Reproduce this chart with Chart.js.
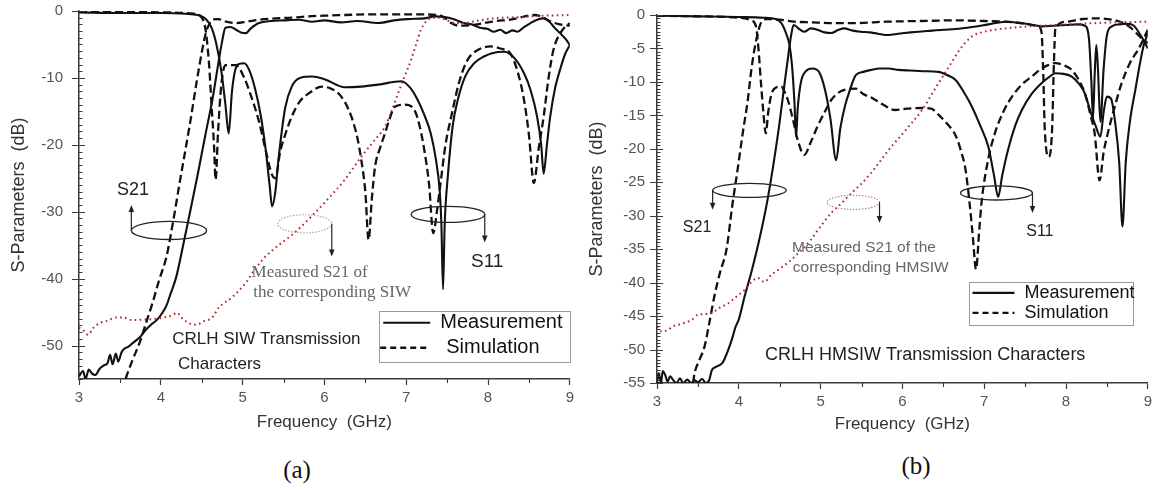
<!DOCTYPE html>
<html>
<head>
<meta charset="utf-8">
<script src="https://cdn.jsdelivr.net/npm/chart.js@4.4.1/dist/chart.umd.min.js"></script>
<style>
  body { margin: 0; background: #fff; }
  #wrap { position: relative; width: 1156px; height: 490px; }
  canvas { position: absolute; top: 0; }
  #ca { left: 0; }
  #cb { left: 578px; }
  .tag { position: absolute; font-family: "Liberation Serif", "Times New Roman", serif; font-size: 25px; color: #111; transform: translate(-50%, -50%); }
</style>
</head>
<body>
<div id="wrap">
  <canvas id="ca" width="578" height="445"></canvas>
  <canvas id="cb" width="578" height="445"></canvas>
  <div class="tag" style="left:297px;top:470px">(a)</div>
  <div class="tag" style="left:916px;top:466px">(b)</div>
</div>
<script>
// ---- CRLH SIW (panel a), [GHz, dB] ----
const siwS21Meas = [
  [3.00, -54.6], [3.05, -53.8], [3.08, -55.0], [3.12, -53.6], [3.16, -54.2], [3.20, -54.4],
  [3.25, -53.5], [3.30, -53.0], [3.35, -52.6], [3.38, -51.4], [3.41, -52.8], [3.45, -51.2],
  [3.48, -52.4], [3.52, -51.0], [3.56, -50.4], [3.60, -50.2], [3.66, -49.6], [3.74, -48.8],
  [3.82, -47.6], [3.88, -46.9], [3.95, -46.2], [4.02, -45.1], [4.07, -44.0], [4.11, -42.6],
  [4.19, -39.7], [4.27, -35.2], [4.35, -30.5], [4.45, -24.5], [4.55, -18.2], [4.63, -13.3],
  [4.71, -7.3], [4.75, -4.5], [4.79, -2.5], [4.85, -2.4], [4.92, -2.8], [4.98, -3.2],
  [5.04, -3.3], [5.10, -2.6], [5.20, -1.8], [5.35, -1.5], [5.50, -1.4], [5.69, -1.3],
  [5.85, -1.6], [6.00, -1.4], [6.20, -1.7], [6.40, -1.5], [6.66, -1.8], [6.85, -1.4],
  [7.05, -1.2], [7.22, -1.1], [7.35, -0.8], [7.47, -0.9], [7.60, -1.3], [7.70, -1.8],
  [7.80, -2.0], [7.90, -2.5], [8.00, -2.7], [8.07, -3.1], [8.15, -2.8], [8.22, -3.3],
  [8.30, -2.9], [8.36, -3.1], [8.44, -2.4], [8.52, -1.8], [8.60, -1.3], [8.68, -1.1],
  [8.75, -1.6], [8.82, -2.6], [8.88, -3.3], [8.95, -4.2], [9.00, -5.1]
];
const siwS21Sim = [
  [3.57, -55.0], [3.58, -54.6], [3.66, -52.0], [3.74, -49.6], [3.82, -46.6], [3.90, -43.6],
  [3.98, -40.2], [4.07, -36.7], [4.15, -31.5], [4.23, -25.7], [4.35, -17.3], [4.47, -8.3],
  [4.55, -3.3], [4.60, -1.8], [4.63, -1.3], [4.70, -1.2], [4.80, -1.6], [4.92, -1.8],
  [5.05, -1.6], [5.20, -1.3], [5.40, -1.1], [5.60, -1.0], [5.80, -0.8], [6.00, -0.7],
  [6.25, -0.6], [6.50, -0.5], [6.80, -0.5], [7.10, -0.5], [7.39, -0.6], [7.47, -1.0],
  [7.55, -1.8], [7.65, -2.2], [7.80, -2.1], [7.95, -1.8], [8.10, -1.5], [8.27, -1.3],
  [8.45, -0.8], [8.56, -0.6], [8.65, -0.8], [8.75, -1.5], [8.88, -2.0], [9.00, -2.2]
];
const siwS11Meas = [
  [3.00, -0.2], [3.50, -0.3], [4.00, -0.3], [4.30, -0.4], [4.45, -0.6], [4.55, -1.2],
  [4.62, -2.5], [4.68, -5.0], [4.74, -9.0], [4.79, -14.0], [4.83, -18.3], [4.87, -12.0],
  [4.91, -8.8], [4.96, -7.9], [5.02, -7.8], [5.08, -8.8], [5.15, -11.5], [5.22, -15.5],
  [5.28, -20.5], [5.33, -26.0], [5.36, -29.2], [5.40, -27.0], [5.44, -22.0], [5.52, -14.5],
  [5.60, -11.3], [5.70, -10.0], [5.85, -9.8], [6.00, -10.2], [6.25, -11.4], [6.45, -11.3],
  [6.66, -11.0], [6.94, -10.5], [7.05, -11.5], [7.14, -13.3], [7.22, -15.5], [7.30, -18.3],
  [7.36, -22.0], [7.41, -27.0], [7.43, -32.0], [7.45, -41.6], [7.47, -32.0], [7.51, -24.5],
  [7.57, -17.0], [7.63, -13.3], [7.72, -9.8], [7.83, -7.8], [7.95, -6.8], [8.05, -6.3],
  [8.20, -6.1], [8.32, -7.0], [8.44, -9.3], [8.52, -11.8], [8.60, -15.8], [8.65, -20.0],
  [8.68, -24.3], [8.72, -20.0], [8.76, -15.8], [8.82, -11.5], [8.88, -8.8], [8.94, -6.5],
  [9.00, -5.1]
];
const siwS11Sim = [
  [3.00, -0.1], [4.00, -0.2], [4.40, -0.4], [4.50, -1.0], [4.55, -3.0], [4.59, -8.0],
  [4.62, -14.0], [4.65, -20.0], [4.67, -25.2], [4.70, -18.0], [4.74, -11.0], [4.79, -8.1],
  [4.92, -8.1], [5.02, -10.0], [5.12, -13.3], [5.20, -16.5], [5.28, -20.7], [5.36, -24.5],
  [5.40, -25.0], [5.46, -21.0], [5.52, -18.5], [5.60, -15.8], [5.70, -13.5], [5.81, -12.3],
  [5.97, -11.3], [6.08, -11.6], [6.17, -12.3], [6.25, -13.6], [6.33, -15.8], [6.40, -18.8],
  [6.45, -22.2], [6.50, -27.0], [6.54, -34.2], [6.58, -28.0], [6.62, -23.2], [6.68, -20.5],
  [6.74, -18.3], [6.80, -16.0], [6.86, -14.3], [6.98, -14.0], [7.10, -14.8], [7.16, -17.0],
  [7.22, -20.7], [7.28, -26.0], [7.33, -33.2], [7.38, -29.5], [7.42, -25.7], [7.48, -20.0],
  [7.55, -15.8], [7.65, -10.5], [7.75, -7.3], [7.88, -5.8], [8.03, -5.3], [8.15, -5.6],
  [8.27, -6.3], [8.36, -9.0], [8.44, -13.3], [8.50, -18.5], [8.56, -25.7], [8.62, -20.5],
  [8.68, -15.8], [8.74, -10.0], [8.80, -5.8], [8.90, -3.0], [9.00, -1.8]
];
const siwPlainS21 = [
  [3.00, -47.3], [3.06, -47.8], [3.11, -48.4], [3.18, -47.3], [3.26, -46.6], [3.35, -46.3],
  [3.45, -45.8], [3.54, -45.8], [3.65, -46.2], [3.82, -46.1], [3.95, -46.0], [4.07, -45.7],
  [4.14, -45.5], [4.20, -45.1], [4.25, -45.8], [4.31, -46.4], [4.37, -46.8], [4.43, -46.9],
  [4.52, -46.4], [4.63, -45.8], [4.71, -44.3], [4.87, -42.8], [5.04, -40.6], [5.15, -38.6],
  [5.28, -36.7], [5.44, -35.0], [5.60, -33.5], [5.85, -30.6], [6.05, -28.0], [6.25, -25.2],
  [6.45, -21.8], [6.60, -19.5], [6.74, -17.3], [6.82, -15.0], [6.90, -12.3], [6.98, -9.8],
  [7.06, -7.3], [7.12, -5.0], [7.18, -2.8], [7.24, -1.6], [7.30, -1.1], [7.40, -1.0],
  [7.50, -1.4], [7.60, -1.8], [7.70, -1.8], [7.85, -1.5], [8.07, -1.1], [8.40, -0.9],
  [8.70, -0.7], [9.00, -0.6]
];

// ---- CRLH HMSIW (panel b), [GHz, dB] ----
const hmS21Meas = [
  [3.00, -55.0], [3.02, -53.5], [3.05, -55.0], [3.07, -53.2], [3.10, -53.8], [3.13, -54.8],
  [3.16, -54.0], [3.20, -54.6], [3.24, -55.0], [3.28, -54.3], [3.32, -55.0], [3.37, -54.5],
  [3.42, -55.0], [3.46, -54.6], [3.50, -54.9], [3.55, -54.4], [3.60, -55.0], [3.64, -54.5],
  [3.67, -53.1], [3.72, -52.6], [3.80, -52.0], [3.84, -51.0], [3.87, -50.1], [3.92, -48.3],
  [3.96, -46.6], [4.00, -45.5], [4.07, -42.1], [4.15, -38.6], [4.25, -33.6], [4.35, -27.7],
  [4.48, -17.7], [4.56, -10.2], [4.60, -6.5], [4.64, -3.0], [4.67, -1.5], [4.75, -2.2],
  [4.80, -2.5], [4.88, -2.0], [4.96, -2.2], [5.05, -2.6], [5.13, -2.7], [5.22, -2.2],
  [5.29, -2.0], [5.38, -2.3], [5.49, -2.5], [5.60, -2.6], [5.70, -2.8], [5.83, -3.0],
  [5.95, -2.8], [6.10, -2.6], [6.30, -2.4], [6.50, -2.2], [6.65, -2.1], [6.85, -1.8],
  [7.05, -1.4], [7.26, -1.0], [7.45, -1.2], [7.60, -1.5], [7.70, -1.7], [7.85, -1.6],
  [8.00, -1.5], [8.15, -1.4], [8.23, -1.6], [8.28, -3.5], [8.31, -10.0], [8.33, -15.5],
  [8.35, -9.0], [8.37, -4.5], [8.39, -8.0], [8.42, -16.0], [8.46, -8.0], [8.50, -3.0],
  [8.56, -1.7], [8.65, -1.4], [8.75, -1.3], [8.83, -1.6], [8.90, -2.8], [8.95, -3.8],
  [9.00, -5.0]
];
const hmS21Sim = [
  [3.44, -55.0], [3.46, -53.5], [3.52, -51.5], [3.58, -49.6], [3.64, -46.0], [3.70, -42.1],
  [3.77, -38.5], [3.85, -35.0], [3.92, -28.5], [3.99, -22.7], [4.05, -17.5], [4.11, -12.7],
  [4.15, -8.5], [4.19, -5.2], [4.23, -2.8], [4.27, -1.2], [4.35, -0.6], [4.50, -0.7],
  [4.68, -1.0], [4.90, -1.1], [5.10, -1.2], [5.43, -1.2], [5.80, -1.0], [6.20, -0.9],
  [6.65, -0.8], [7.00, -0.9], [7.26, -1.0], [7.50, -1.3], [7.66, -1.7], [7.70, -2.5],
  [7.72, -8.0], [7.74, -17.0], [7.79, -21.2], [7.83, -17.0], [7.85, -8.0], [7.87, -2.0],
  [8.00, -1.0], [8.20, -0.6], [8.35, -0.5], [8.56, -0.7], [8.70, -1.2], [8.80, -2.0],
  [8.90, -3.2], [9.00, -4.2]
];
const hmS11Meas = [
  [3.00, -0.1], [3.50, -0.2], [4.00, -0.3], [4.30, -0.4], [4.45, -0.6], [4.52, -1.2],
  [4.58, -2.8], [4.62, -4.5], [4.65, -7.5], [4.68, -13.0], [4.70, -18.2], [4.72, -14.0],
  [4.76, -10.0], [4.82, -8.4], [4.90, -8.0], [4.98, -8.5], [5.05, -11.0], [5.12, -15.5],
  [5.19, -21.7], [5.24, -17.0], [5.30, -13.5], [5.35, -11.5], [5.43, -9.0], [5.52, -8.5],
  [5.62, -8.2], [5.72, -8.0], [5.83, -8.0], [5.95, -8.2], [6.10, -8.3], [6.25, -8.4],
  [6.44, -8.5], [6.55, -9.0], [6.65, -9.7], [6.75, -11.5], [6.85, -13.7], [6.95, -16.5],
  [7.05, -19.7], [7.12, -24.0], [7.17, -27.2], [7.22, -24.0], [7.29, -20.2], [7.38, -16.5],
  [7.46, -14.2], [7.58, -11.8], [7.70, -10.2], [7.80, -9.2], [7.87, -8.7], [7.97, -8.8],
  [8.07, -9.2], [8.16, -10.3], [8.23, -11.7], [8.30, -14.5], [8.36, -16.5], [8.42, -18.2],
  [8.46, -14.5], [8.50, -12.2], [8.55, -12.5], [8.60, -16.0], [8.65, -22.0], [8.69, -31.6],
  [8.73, -22.0], [8.78, -16.0], [8.85, -11.0], [8.90, -7.5], [8.95, -4.5], [9.00, -2.7]
];
const hmS11Sim = [
  [3.00, -0.1], [3.50, -0.2], [4.00, -0.4], [4.15, -0.8], [4.21, -1.7], [4.24, -5.0],
  [4.27, -10.0], [4.30, -14.5], [4.33, -17.7], [4.36, -14.5], [4.40, -11.8], [4.46, -10.8],
  [4.52, -10.7], [4.56, -11.5], [4.60, -12.7], [4.66, -15.5], [4.72, -18.7], [4.80, -20.9],
  [4.88, -19.0], [4.96, -16.7], [5.05, -14.5], [5.13, -12.7], [5.22, -11.6], [5.29, -11.2],
  [5.43, -11.0], [5.52, -11.8], [5.63, -12.4], [5.75, -13.3], [5.91, -14.2], [6.05, -14.0],
  [6.24, -13.9], [6.35, -14.0], [6.45, -15.0], [6.55, -16.3], [6.65, -18.0], [6.72, -20.5],
  [6.77, -23.0], [6.82, -28.0], [6.86, -33.0], [6.90, -38.0], [6.94, -32.0], [6.97, -27.7],
  [7.05, -21.5], [7.13, -17.7], [7.24, -14.3], [7.34, -12.2], [7.46, -10.4], [7.58, -9.2],
  [7.70, -8.0], [7.78, -7.5], [7.87, -7.2], [7.97, -7.5], [8.07, -8.2], [8.16, -9.8],
  [8.23, -11.7], [8.30, -15.0], [8.35, -17.7], [8.41, -24.7], [8.46, -20.5], [8.51, -17.7],
  [8.60, -13.5], [8.68, -10.2], [8.78, -7.2], [8.88, -5.2], [8.94, -3.8], [9.00, -2.2]
];
const hmPlainS21 = [
  [3.00, -46.6], [3.06, -47.3], [3.13, -47.1], [3.20, -46.5], [3.26, -46.3], [3.34, -46.0],
  [3.42, -45.6], [3.50, -44.8], [3.58, -44.7], [3.66, -44.6], [3.76, -43.8], [3.87, -43.1],
  [3.97, -42.1], [4.07, -41.1], [4.15, -40.0], [4.23, -39.3], [4.31, -39.9], [4.40, -38.8],
  [4.48, -38.1], [4.56, -37.4], [4.64, -36.6], [4.76, -35.2], [4.88, -33.6], [5.00, -31.6],
  [5.13, -29.6], [5.25, -28.2], [5.37, -26.7], [5.50, -25.2], [5.61, -23.7], [5.72, -22.0],
  [5.83, -20.2], [6.04, -17.2], [6.24, -14.2], [6.40, -11.0], [6.57, -7.7], [6.70, -5.2],
  [6.85, -3.2], [7.00, -2.5], [7.26, -2.0], [7.55, -1.7], [7.87, -1.5], [8.20, -1.3],
  [8.60, -1.1], [9.00, -1.0]
];

const SANS = '"Liberation Sans", Arial, sans-serif';
const SERIF = '"Liberation Serif", "Times New Roman", serif';
const INK = '#111';
const AXIS = '#3a3a3a';

Chart.defaults.font.family = SANS;
Chart.defaults.animation = false;

const pts = arr => arr.map(([x, y]) => ({ x, y }));

const line = (data, kind) => {
  const ds = {
    data: pts(data),
    borderColor: INK,
    borderWidth: 2.1,
    pointRadius: 0,
    cubicInterpolationMode: 'monotone',
    fill: false
  };
  if (kind === 'dash') {
    ds.borderDash = [8, 4];
    ds.borderWidth = 2.3;
  }
  if (kind === 'dot') {
    ds.borderColor = '#ad2a2c';
    ds.borderDash = [1.6, 3.4];
    ds.borderWidth = 2;
  }
  return ds;
};

// tick marks, ellipses with arrows, labels and the legend box
const notesPlugin = {
  id: 'notes',
  afterDraw(chart, args, o) {
    const { ctx, chartArea: a, scales: { x, y } } = chart;
    const px = v => x.getPixelForValue(v);
    const py = v => y.getPixelForValue(v);
    ctx.save();

    ctx.strokeStyle = AXIS;
    ctx.lineWidth = 1.1;
    ctx.beginPath();
    for (let v = x.min + o.xMinor; v < x.max; v += o.xMinor) {
      if (Math.abs(v - Math.round(v)) < 1e-6) continue;
      const X = Math.round(px(v)) + 0.5;
      ctx.moveTo(X, a.bottom);
      ctx.lineTo(X, a.bottom + 4);
    }
    for (let v = y.max; v >= y.min - 1e-6; v -= o.yMinor) {
      const Y = Math.round(py(v)) + 0.5;
      const major = Math.abs(v / o.yMajor - Math.round(v / o.yMajor)) < 1e-6;
      ctx.moveTo(a.left - (major ? 7 : 0), Y);
      ctx.lineTo(a.left + (major ? 6 : 3.5), Y);
    }
    ctx.stroke();

    // ellipses with their arrows
    o.rings.forEach(r => {
      const cx = px(r.f), cy = py(r.db);
      const rx = px(r.f + r.rf) - cx, ry = py(r.db - r.rdb) - cy;
      ctx.strokeStyle = r.color;
      ctx.lineWidth = r.width;
      ctx.setLineDash(r.dash);
      ctx.beginPath();
      ctx.ellipse(cx, cy, rx, ry, 0, 0, Math.PI * 2);
      ctx.stroke();
      ctx.setLineDash([]);
      const ax = r.side === 'left' ? cx - rx : cx + rx;
      const ay2 = py(r.to);
      const dir = ay2 < cy ? -1 : 1;
      ctx.strokeStyle = '#222';
      ctx.fillStyle = '#222';
      ctx.lineWidth = 1.2;
      ctx.beginPath();
      ctx.moveTo(ax, cy);
      ctx.lineTo(ax, ay2 - dir * 5);
      ctx.stroke();
      ctx.beginPath();
      ctx.moveTo(ax, ay2);
      ctx.lineTo(ax - 2.8, ay2 - dir * 7);
      ctx.lineTo(ax + 2.8, ay2 - dir * 7);
      ctx.closePath();
      ctx.fill();
    });

    ctx.textBaseline = 'middle';
    o.texts.forEach(t => {
      ctx.font = t.font;
      ctx.fillStyle = t.color;
      ctx.textAlign = t.align;
      ctx.fillText(t.text, px(t.f), py(t.db));
    });

    // legend box
    const L = o.legend;
    const bx = px(L.f0), by = py(L.db0);
    const bw = px(L.f1) - bx, bh = py(L.db1) - by;
    ctx.fillStyle = '#fff';
    ctx.fillRect(bx, by, bw, bh);
    ctx.strokeStyle = '#9a9a9a';
    ctx.lineWidth = 1;
    ctx.strokeRect(Math.round(bx) + 0.5, Math.round(by) + 0.5, Math.round(bw), Math.round(bh));
    ctx.font = L.font;
    ctx.fillStyle = INK;
    ctx.textAlign = 'left';
    L.rows.forEach(row => {
      ctx.strokeStyle = INK;
      ctx.lineWidth = row.dash.length ? 2.3 : 2.2;
      ctx.setLineDash(row.dash);
      ctx.beginPath();
      ctx.moveTo(bx + row.l0, by + row.dy);
      ctx.lineTo(bx + row.l1, by + row.dy);
      ctx.stroke();
      ctx.setLineDash([]);
      ctx.fillText(row.label, bx + row.tx, by + row.dy);
    });

    ctx.restore();
  }
};

function makeChart(id, sets, cfg) {
  return new Chart(document.getElementById(id), {
    type: 'line',
    data: { datasets: sets },
    plugins: [notesPlugin],
    options: {
      responsive: false,
      devicePixelRatio: 1,
      layout: { padding: cfg.pad },
      plugins: { legend: { display: false }, tooltip: { enabled: false }, notes: cfg.notes },
      scales: {
        x: {
          type: 'linear', min: 3, max: 9,
          ticks: { stepSize: 1, color: '#555', font: { size: 15 }, padding: 4 },
          grid: { drawOnChartArea: false, tickLength: 6, tickColor: AXIS, tickWidth: 1.2 },
          border: { color: AXIS, width: 1.5 },
          title: { display: true, text: 'Frequency  (GHz)', color: '#333', font: { size: 17 }, padding: 0 },
          afterFit: s => { s.height = cfg.xh; }
        },
        y: {
          type: 'linear', min: -55, max: 0,
          ticks: { stepSize: cfg.yStep, includeBounds: false, color: '#555', font: { size: 15 }, padding: 2 },
          // the outer tick marks are drawn by the notes plugin
          grid: { drawOnChartArea: false, tickLength: cfg.yGap, tickColor: 'rgba(0,0,0,0)' },
          border: { color: AXIS, width: 1.5 },
          title: { display: true, text: 'S-Parameters  (dB)', color: '#333', font: { size: 18 }, padding: { top: 8 } },
          afterFit: s => { s.width = 79; }
        }
      }
    }
  });
}

makeChart('ca', [
  line(siwPlainS21, 'dot'),
  line(siwS21Sim, 'dash'),
  line(siwS11Sim, 'dash'),
  line(siwS21Meas),
  line(siwS11Meas)
], {
  pad: { top: 11, right: 5, bottom: 12, left: 0 },
  xh: 54, yStep: 10, yGap: 14,
  notes: {
    xMinor: 0.5, yMinor: 1, yMajor: 10,
    rings: [
      { f: 4.10, db: -32.8, rf: 0.46, rdb: 1.35, color: '#222', width: 1.3, dash: [], side: 'left', to: -29.0 },
      { f: 5.76, db: -31.8, rf: 0.33, rdb: 1.35, color: '#aaa', width: 1.2, dash: [1.5, 1.5], side: 'right', to: -36.7 },
      { f: 7.51, db: -30.4, rf: 0.45, rdb: 1.2, color: '#222', width: 1.3, dash: [], side: 'right', to: -34.6 }
    ],
    texts: [
      { text: 'S21', f: 3.66, db: -26.7, align: 'center', font: '18px ' + SANS, color: '#222' },
      { text: 'S11', f: 7.99, db: -37.5, align: 'center', font: '19px ' + SANS, color: '#222' },
      { text: 'Measured S21 of', f: 5.11, db: -39.1, align: 'left', font: '17px ' + SERIF, color: '#666' },
      { text: 'the corresponding SIW', f: 5.13, db: -42.1, align: 'left', font: '17px ' + SERIF, color: '#666' },
      { text: 'CRLH SIW Transmission', f: 4.14, db: -49.1, align: 'left', font: '17px ' + SANS, color: '#222' },
      { text: 'Characters', f: 4.21, db: -52.8, align: 'left', font: '17px ' + SANS, color: '#222' }
    ],
    legend: {
      f0: 6.67, db0: -44.8, f1: 9.0, db1: -52.4, font: '20px ' + SANS,
      rows: [
        { label: 'Measurement', dy: 12, l0: 4, l1: 51, tx: 61, dash: [] },
        { label: 'Simulation', dy: 37, l0: 1, l1: 51, tx: 67, dash: [6, 4] }
      ]
    }
  }
});

makeChart('cb', [
  line(hmPlainS21, 'dot'),
  line(hmS21Sim, 'dash'),
  line(hmS11Sim, 'dash'),
  line(hmS21Meas),
  line(hmS11Meas)
], {
  pad: { top: 15, right: 7, bottom: 10, left: 0 },
  xh: 52, yStep: 5, yGap: 10,
  notes: {
    xMinor: 0.5, yMinor: 0.5, yMajor: 5,
    rings: [
      { f: 4.13, db: -26.2, rf: 0.45, rdb: 1.05, color: '#222', width: 1.3, dash: [], side: 'left', to: -29.1 },
      { f: 5.40, db: -28.0, rf: 0.32, rdb: 1.05, color: '#b88', width: 1.2, dash: [1.5, 1.5], side: 'right', to: -31.1 },
      { f: 7.15, db: -26.6, rf: 0.44, rdb: 1.05, color: '#222', width: 1.3, dash: [], side: 'right', to: -29.6 }
    ],
    texts: [
      { text: 'S21', f: 3.49, db: -31.8, align: 'center', font: '16px ' + SANS, color: '#222' },
      { text: 'S11', f: 7.68, db: -32.4, align: 'center', font: '16px ' + SANS, color: '#222' },
      { text: 'Measured S21 of the', f: 4.65, db: -34.8, align: 'left', font: '15.5px ' + SANS, color: '#666' },
      { text: 'corresponding HMSIW', f: 4.66, db: -37.7, align: 'left', font: '15.5px ' + SANS, color: '#666' },
      { text: 'CRLH HMSIW Transmission Characters', f: 4.32, db: -50.8, align: 'left', font: '18px ' + SANS, color: '#222' }
    ],
    legend: {
      f0: 6.82, db0: -39.9, f1: 8.83, db1: -46.3, font: '18px ' + SANS,
      rows: [
        { label: 'Measurement', dy: 11, l0: 3, l1: 45, tx: 55, dash: [] },
        { label: 'Simulation', dy: 31, l0: 3, l1: 45, tx: 55, dash: [6, 4] }
      ]
    }
  }
});
</script>
</body>
</html>
